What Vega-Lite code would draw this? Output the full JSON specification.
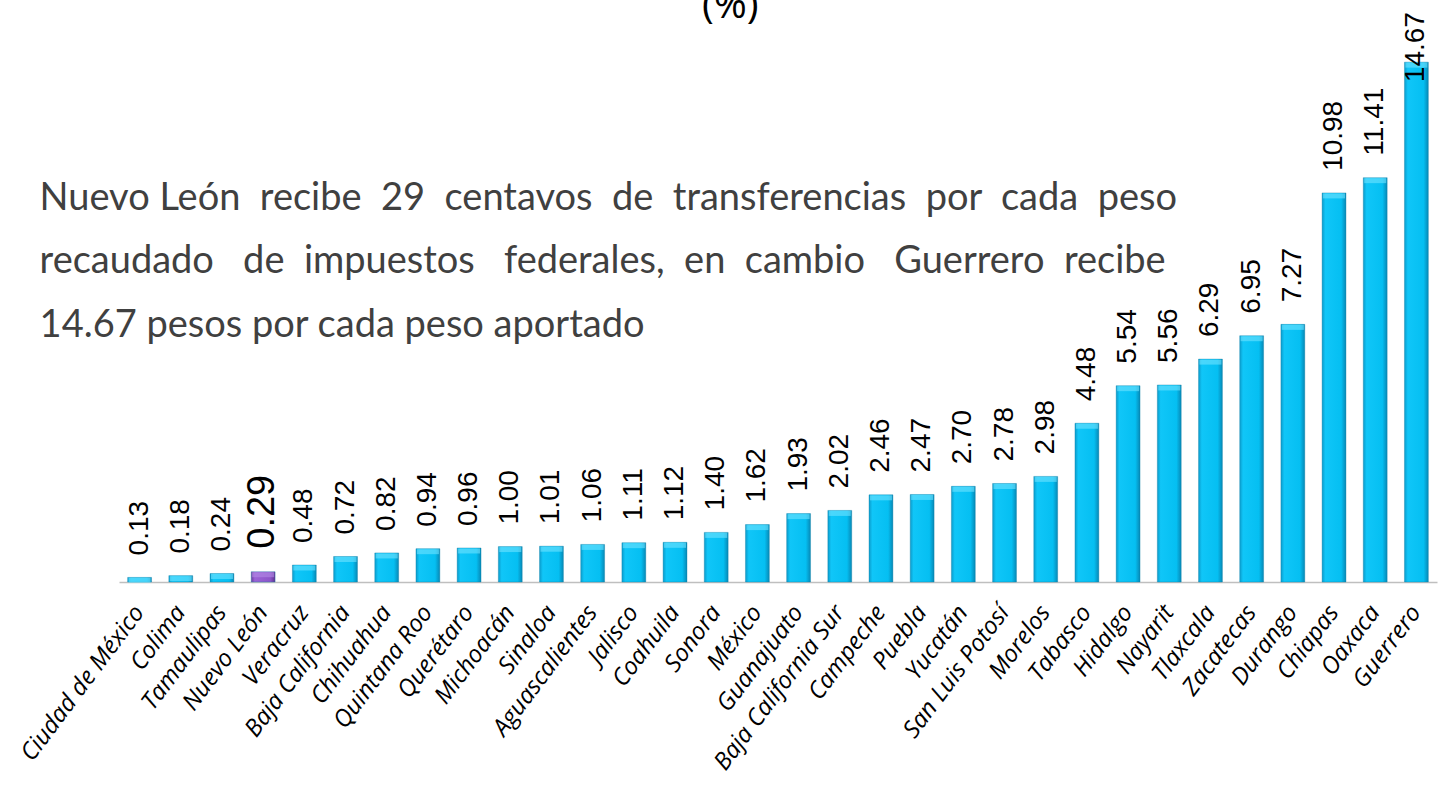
{
  "$schema": "https://vega.github.io/schema/vega-lite/v6.json",
  "width": 1318,
  "height": 567,
  "autosize": {"type": "none"},
  "padding": {"left": 119, "top": 15, "right": 4, "bottom": 208},
  "background": "white",
  "config": {"view": {"stroke": null}},
  "datasets": {
    "estados": [
      {"estado": "Ciudad de México", "valor": 0.13},
      {"estado": "Colima", "valor": 0.18},
      {"estado": "Tamaulipas", "valor": 0.24},
      {"estado": "Nuevo León", "valor": 0.29},
      {"estado": "Veracruz", "valor": 0.48},
      {"estado": "Baja California", "valor": 0.72},
      {"estado": "Chihuahua", "valor": 0.82},
      {"estado": "Quintana Roo", "valor": 0.94},
      {"estado": "Querétaro", "valor": 0.96},
      {"estado": "Michoacán", "valor": 1.00},
      {"estado": "Sinaloa", "valor": 1.01},
      {"estado": "Aguascalientes", "valor": 1.06},
      {"estado": "Jalisco", "valor": 1.11},
      {"estado": "Coahuila", "valor": 1.12},
      {"estado": "Sonora", "valor": 1.40},
      {"estado": "México", "valor": 1.62},
      {"estado": "Guanajuato", "valor": 1.93},
      {"estado": "Baja California Sur", "valor": 2.02},
      {"estado": "Campeche", "valor": 2.46},
      {"estado": "Puebla", "valor": 2.47},
      {"estado": "Yucatán", "valor": 2.70},
      {"estado": "San Luis Potosí", "valor": 2.78},
      {"estado": "Morelos", "valor": 2.98},
      {"estado": "Tabasco", "valor": 4.48},
      {"estado": "Hidalgo", "valor": 5.54},
      {"estado": "Nayarit", "valor": 5.56},
      {"estado": "Tlaxcala", "valor": 6.29},
      {"estado": "Zacatecas", "valor": 6.95},
      {"estado": "Durango", "valor": 7.27},
      {"estado": "Chiapas", "valor": 10.98},
      {"estado": "Oaxaca", "valor": 11.41},
      {"estado": "Guerrero", "valor": 14.67}
    ],
    "nota": [
      {"linea": "Nuevo León \u00a0recibe \u00a029 \u00a0centavos \u00a0de \u00a0transferencias \u00a0por \u00a0cada \u00a0peso", "pos": 10.49},
      {"linea": "recaudado \u00a0\u00a0de \u00a0impuestos \u00a0\u00a0federales, \u00a0en \u00a0cambio \u00a0\u00a0Guerrero \u00a0recibe", "pos": 8.72},
      {"linea": "14.67 pesos por cada peso aportado", "pos": 6.91}
    ]
  },
  "data": {"name": "estados"},
  "layer": [
    {
      "mark": {"type": "bar", "stroke": "#0a7fa6", "strokeWidth": 0.6, "strokeOpacity": 0.6},
      "encoding": {
        "x": {
          "field": "estado", "type": "nominal", "sort": null,
          "scale": {"paddingInner": 0.42, "paddingOuter": 0.21},
          "axis": {
            "title": null, "ticks": false, "domainColor": "#BFBFBF", "domainWidth": 1.5,
            "labelAngle": -53, "labelFont": "Open Sans", "labelFontStyle": "italic",
            "labelFontSize": 24, "labelColor": "#000000", "labelPadding": 26, "labelLimit": 400,
            "labelOverlap": false
          }
        },
        "y": {"field": "valor", "type": "quantitative", "scale": {"domain": [0, 16]}, "axis": null},
        "fill": {
          "condition": {
            "test": "datum.estado === 'Nuevo León'",
            "value": {"gradient": "linear", "x1": 0, "x2": 1, "y1": 0, "y2": 0,
              "stops": [{"offset": 0, "color": "#6a3d9e"}, {"offset": 0.15, "color": "#9b63d6"}, {"offset": 0.8, "color": "#8d55c9"}, {"offset": 1, "color": "#5e3390"}]}
          },
          "value": {"gradient": "linear", "x1": 0, "x2": 1, "y1": 0, "y2": 0,
            "stops": [{"offset": 0, "color": "#0b9bcb"}, {"offset": 0.14, "color": "#10c6f8"}, {"offset": 0.8, "color": "#05bff2"}, {"offset": 1, "color": "#0788b5"}]}
        }
      }
    },
    {
      "mark": {"type": "tick", "orient": "horizontal", "thickness": 5, "size": 22, "yOffset": 3, "opacity": 0.6},
      "encoding": {
        "x": {"field": "estado", "type": "nominal", "sort": null},
        "y": {"field": "valor", "type": "quantitative"},
        "color": {
          "condition": {"test": "datum.estado === 'Nuevo León'", "value": "#b48ae6"},
          "value": "#6fe2ff"
        }
      }
    },
    {
      "transform": [{"filter": "datum.estado !== 'Nuevo León' && datum.estado !== 'Guerrero'"}],
      "mark": {"type": "text", "angle": 270, "align": "left", "baseline": "middle", "dx": 22, "font": "Liberation Sans", "fontSize": 28, "color": "#000000"},
      "encoding": {
        "x": {"field": "estado", "type": "nominal", "sort": null},
        "y": {"field": "valor", "type": "quantitative"},
        "text": {"field": "valor", "type": "quantitative", "format": ".2f"}
      }
    },
    {
      "transform": [{"filter": "datum.estado === 'Nuevo León'"}],
      "mark": {"type": "text", "angle": 270, "align": "left", "baseline": "middle", "dx": 23, "font": "Liberation Sans", "fontSize": 38, "color": "#000000"},
      "encoding": {
        "x": {"field": "estado", "type": "nominal", "sort": null},
        "y": {"field": "valor", "type": "quantitative"},
        "text": {"field": "valor", "type": "quantitative", "format": ".2f"}
      }
    },
    {
      "transform": [{"filter": "datum.estado === 'Guerrero'"}],
      "mark": {"type": "text", "angle": 270, "align": "left", "baseline": "middle", "dx": -20, "font": "Liberation Sans", "fontSize": 28, "color": "#000000"},
      "encoding": {
        "x": {"field": "estado", "type": "nominal", "sort": null},
        "y": {"field": "valor", "type": "quantitative"},
        "text": {"field": "valor", "type": "quantitative", "format": ".2f"}
      }
    },
    {
      "data": {"name": "nota"},
      "mark": {"type": "text", "align": "left", "baseline": "alphabetic", "dx": -100, "font": "Lato", "fontSize": 38, "color": "#404040"},
      "encoding": {
        "x": {"datum": "Ciudad de México", "type": "nominal"},
        "y": {"field": "pos", "type": "quantitative"},
        "text": {"field": "linea"}
      }
    },
    {
      "data": {"values": [{"t": "(%)"}]},
      "mark": {"type": "text", "align": "center", "baseline": "alphabetic", "dx": 14, "font": "Open Sans", "fontSize": 40, "color": "#000000"},
      "encoding": {
        "x": {"datum": "Sonora", "type": "nominal"},
        "y": {"datum": 15.91, "type": "quantitative"},
        "text": {"field": "t"}
      }
    }
  ]
}
